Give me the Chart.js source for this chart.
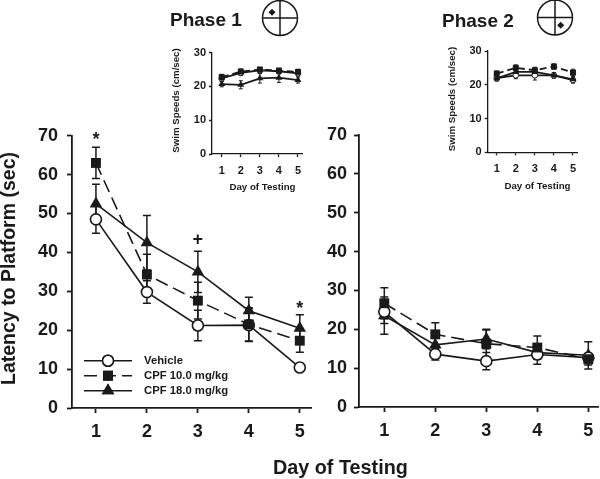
<!DOCTYPE html>
<html>
<head>
<meta charset="utf-8">
<script src="https://cdn.jsdelivr.net/npm/chart.js@4/dist/chart.umd.min.js"></script>
<style>
html, body { margin: 0; padding: 0; background: #fff; }
#page { position: relative; width: 600px; height: 479px; overflow: hidden; }
#page canvas { position: absolute; left: 0; top: 0; }
.label { position: absolute; font-family: "Liberation Sans", Arial, sans-serif; font-weight: bold; color: #1a1a1a; white-space: nowrap; }
.small { font-size: 9.7px; transform: translate(-50%, -50%); }
</style>
</head>
<body>
<div id="page">
  <canvas id="main1" width="600" height="479"></canvas>
  <canvas id="main2" width="600" height="479"></canvas>
  <canvas id="inset1" width="600" height="479"></canvas>
  <canvas id="inset2" width="600" height="479"></canvas>
  <div class="label" style="left:170px;top:9px;font-size:19px">Phase 1</div>
  <div class="label" style="left:442px;top:10px;font-size:19px">Phase 2</div>
  <div class="label" style="left:273px;top:456px;font-size:19.8px">Day of Testing</div>
  <div class="label small" style="left:262.5px;top:186px">Day of Testing</div>
  <div class="label small" style="left:537.5px;top:184.5px">Day of Testing</div>
</div>
<script>
const days = [1, 2, 3, 4, 5];
const seriesNames = ['Vehicle', 'CPF 10.0 mg/kg', 'CPF 18.0 mg/kg'];

const phase1Vehicle = [48.5, 29.8, 21.2, 21.3, 10.4];
const phase1Cpf10 = [63, 34.3, 27.6, 21.5, 17.3];
const phase1Cpf18 = [52.5, 42.5, 35, 25, 20.5];
const phase1VehicleErr = [3.6, 2.9, 3.9, 4.2, 0];
const phase1Cpf10Err = [4, 5.2, 4.7, 4.3, 3];
const phase1Cpf18Err = [5, 7, 5.3, 3.5, 3.5];

const phase2Vehicle = [24.5, 13.6, 11.8, 13.5, 12.7];
const phase2Cpf10 = [26.7, 18.7, 16.3, 15.3, 12.3];
const phase2Cpf18 = [23.5, 16, 17.5, 14, 13.3];
const phase2VehicleErr = [3, 1.5, 2.2, 2.5, 1];
const phase2Cpf10Err = [4, 3, 3.5, 3, 1.5];
const phase2Cpf18Err = [4.8, 2, 2.5, 1.5, 3.5];

const swim1Vehicle = [22.4, 24, 24.8, 24.5, 23.9];
const swim1Cpf10 = [22.8, 24.4, 25, 24.7, 24.3];
const swim1Cpf18 = [20.7, 20.5, 22.4, 22.6, 21.9];
const swim1VehicleErr = [0.8, 0.8, 0.8, 0.8, 0.8];
const swim1Cpf10Err = [0.8, 0.8, 0.7, 0.7, 0.8];
const swim1Cpf18Err = [0.8, 1.2, 1.4, 1.4, 0.9];

const swim2Vehicle = [22, 22.8, 22.8, 22.8, 21.4];
const swim2Cpf10 = [23.3, 25, 24.3, 25.4, 23.6];
const swim2Cpf18 = [21.9, 23.8, 23.8, 22.8, 21.6];
const swim2VehicleErr = [0.8, 1, 1.4, 0.8, 0.9];
const swim2Cpf10Err = [0.8, 0.9, 0.9, 0.8, 1];
const swim2Cpf18Err = [0.8, 0.9, 1, 0.8, 0.9];

const sigDays = [1, 3, 5];
const sigHeights = [68.9, 43.2, 25.4];
const sigMarks = ['*', '+', '*'];

const ink = '#1a1a1a';
const fontName = '"Liberation Sans", Arial, sans-serif';

// error bars go under the markers, values come from dataset.errors
const errorBars = {
  id: 'errorBars',
  beforeDatasetsDraw(chart, args, opts) {
    const c = chart.ctx;
    c.save();
    c.strokeStyle = ink;
    c.lineWidth = opts.width;
    chart.data.datasets.forEach(ds => {
      ds.data.forEach((pt, i) => {
        const err = ds.errors[i];
        if (!err) return;
        const px = chart.scales.x.getPixelForValue(pt.x);
        const top = chart.scales.y.getPixelForValue(pt.y + err);
        const bot = chart.scales.y.getPixelForValue(pt.y - err);
        c.beginPath();
        c.moveTo(px, top); c.lineTo(px, bot);
        c.moveTo(px - opts.cap, top); c.lineTo(px + opts.cap, top);
        c.moveTo(px - opts.cap, bot); c.lineTo(px + opts.cap, bot);
        c.stroke();
      });
    });
    c.restore();
  }
};

// * and + above the first panel
const sigLabels = {
  id: 'sigLabels',
  afterDatasetsDraw(chart) {
    if (chart.canvas.id !== 'main1') return;
    const c = chart.ctx;
    c.save();
    c.fillStyle = ink;
    c.font = 'bold 18px ' + fontName;
    c.textAlign = 'center';
    c.textBaseline = 'middle';
    sigMarks.forEach((m, i) => {
      c.fillText(m, chart.scales.x.getPixelForValue(sigDays[i]), chart.scales.y.getPixelForValue(sigHeights[i]));
    });
    c.restore();
  }
};

const keyBox = {
  id: 'keyBox',
  afterDatasetsDraw(chart) {
    if (chart.canvas.id !== 'main1') return;
    const c = chart.ctx;
    c.save();
    seriesNames.forEach((name, i) => {
      const ds = chart.data.datasets[i];
      const y = 360.7 + i * 15;
      c.strokeStyle = ink;
      c.lineWidth = ds.borderWidth;
      c.setLineDash(ds.borderDash || []);
      c.beginPath();
      c.moveTo(84, y); c.lineTo(132, y);
      c.stroke();
      c.setLineDash([]);
      c.fillStyle = ds.pointBackgroundColor;
      Chart.helpers.drawPoint(c, { pointStyle: ds.pointStyle, radius: ds.pointRadius, borderWidth: ds.pointBorderWidth }, 108, y);
      c.fill();
      if (ds.pointBorderWidth) c.stroke();
      c.fillStyle = ink;
      c.font = 'bold 11.3px ' + fontName;
      c.textBaseline = 'middle';
      c.fillText(name, 144, y + 0.5);
    });
    c.restore();
  }
};

// rotated axis titles, water maze diagrams next to the phase titles
const extras = {
  id: 'extras',
  afterDraw(chart) {
    if (chart.canvas.id !== 'inset2') return;
    const c = chart.ctx;
    [['Latency to Platform (sec)', 9.5, 268.5, 19.5],
     ['Swim Speeds (cm/sec)', 176.5, 100.5, 9.7],
     ['Swim Speeds (cm/sec)', 452, 99, 9.7]].forEach(t => {
      c.save();
      c.translate(t[1], t[2]);
      c.rotate(-Math.PI / 2);
      c.fillStyle = ink;
      c.font = 'bold ' + t[3] + 'px ' + fontName;
      c.textAlign = 'center';
      c.textBaseline = 'middle';
      c.fillText(t[0], 0, 0);
      c.restore();
    });
    [[280, 18, 272, 12.3], [555, 17.5, 560.7, 25.3]].forEach(m => {
      c.save();
      c.strokeStyle = ink;
      c.lineWidth = 1.5;
      c.beginPath();
      c.arc(m[0], m[1], 17.5, 0, Math.PI * 2);
      c.moveTo(m[0] - 17.5, m[1]); c.lineTo(m[0] + 17.5, m[1]);
      c.moveTo(m[0], m[1] - 17.5); c.lineTo(m[0], m[1] + 17.5);
      c.stroke();
      c.fillStyle = ink;
      c.translate(m[2], m[3]);
      c.rotate(Math.PI / 4);
      c.fillRect(-2.5, -2.5, 5, 5);
      c.restore();
    });
  }
};

function toPoints(values) {
  return days.map((d, i) => ({ x: d, y: values[i] }));
}

function makeDatasets(vehicle, cpf10, cpf18, errs, big) {
  const line = big ? 1.6 : 1.8;
  return [
    { label: seriesNames[0], data: toPoints(vehicle), errors: errs[0], order: big ? 2 : 3, pointStyle: 'circle',
      pointRadius: big ? 5.5 : 2.8, pointBackgroundColor: '#fff', pointBorderWidth: big ? 1.6 : 1, borderDash: [] },
    { label: seriesNames[1], data: toPoints(cpf10), errors: errs[1], order: big ? 1 : 2, pointStyle: 'rect',
      pointRadius: big ? 7 : 4.2, pointBackgroundColor: ink, pointBorderWidth: 0, borderDash: big ? [13, 6] : [7, 4] },
    { label: seriesNames[2], data: toPoints(cpf18), errors: errs[2], order: big ? 3 : 1, pointStyle: 'triangle',
      pointRadius: big ? 7.2 : 4, pointBackgroundColor: ink, pointBorderWidth: 0, borderDash: [] }
  ].map(ds => Object.assign(ds, {
    borderColor: ink, borderWidth: line, pointBorderColor: ink, pointHoverRadius: ds.pointRadius,
    tension: 0, fill: false, clip: false
  }));
}

function makeChart(id, datasets, box, opt) {
  const axisWidth = opt.yWidth;
  const axisHeight = opt.xHeight;
  return new Chart(document.getElementById(id), {
    type: 'line',
    data: { datasets: datasets },
    plugins: [errorBars, sigLabels, keyBox, extras],
    options: {
      responsive: false,
      animation: false,
      events: [],
      layout: { autoPadding: false, padding: {
        left: box.left - axisWidth,
        top: box.top,
        right: 600 - box.right,
        bottom: 479 - box.bottom - axisHeight
      } },
      plugins: { legend: { display: false }, tooltip: { enabled: false },
        errorBars: { width: opt.barWidth, cap: opt.cap } },
      scales: {
        x: {
          type: 'linear',
          min: opt.xMin,
          max: opt.xMax,
          afterBuildTicks: s => { s.ticks = days.map(d => ({ value: d })); },
          afterFit: s => { s.height = axisHeight; s.paddingLeft = 0; s.paddingRight = 0; },
          border: { color: ink, width: opt.axisLine },
          grid: { drawOnChartArea: false, color: ink, tickColor: ink, tickLength: opt.tick, tickWidth: opt.axisLine },
          ticks: { autoSkip: false, maxRotation: 0, color: ink, padding: opt.xPad, font: { family: fontName, weight: 'bold', size: opt.tickSize }, callback: v => String(v) }
        },
        y: {
          min: 0,
          max: opt.yMax,
          afterFit: s => { s.width = axisWidth; },
          border: { color: ink, width: opt.axisLine },
          grid: { drawOnChartArea: false, color: ink, tickColor: ink, tickLength: opt.tick, tickWidth: opt.axisLine },
          ticks: { stepSize: 10, color: ink, padding: opt.yPad, font: { family: fontName, weight: 'bold', size: opt.tickSize } }
        }
      }
    }
  });
}

const mainOpt = { yMax: 70, yWidth: 72, xHeight: 40, barWidth: 1.5, cap: 4, axisLine: 1.8, tick: 5, xPad: 8, tickSize: 18 };
const insetOpt = { yMax: 30, yWidth: 42, xHeight: 38, barWidth: 1, cap: 2, axisLine: 1.3, tick: 3, xPad: 7, yPad: 3, tickSize: 11 };

makeChart('main1',
  makeDatasets(phase1Vehicle, phase1Cpf10, phase1Cpf18, [phase1VehicleErr, phase1Cpf10Err, phase1Cpf18Err], true),
  { left: 72, right: 311, top: 135.7, bottom: 408 },
  Object.assign({}, mainOpt, { xMin: 0.53, xMax: 5.22, yPad: 9 }));
makeChart('main2',
  makeDatasets(phase2Vehicle, phase2Cpf10, phase2Cpf18, [phase2VehicleErr, phase2Cpf10Err, phase2Cpf18Err], true),
  { left: 359, right: 598, top: 135, bottom: 407 },
  Object.assign({}, mainOpt, { xMin: 0.504, xMax: 5.19, yPad: 7 }));
makeChart('inset1',
  makeDatasets(swim1Vehicle, swim1Cpf10, swim1Cpf18, [swim1VehicleErr, swim1Cpf10Err, swim1Cpf18Err], false),
  { left: 212, right: 302, top: 52.7, bottom: 154 },
  Object.assign({}, insetOpt, { xMin: 0.49, xMax: 5.21 }));
makeChart('inset2',
  makeDatasets(swim2Vehicle, swim2Cpf10, swim2Cpf18, [swim2VehicleErr, swim2Cpf10Err, swim2Cpf18Err], false),
  { left: 487.7, right: 577, top: 51, bottom: 152.3 },
  Object.assign({}, insetOpt, { xMin: 0.526, xMax: 5.21 }));
</script>
</body>
</html>
